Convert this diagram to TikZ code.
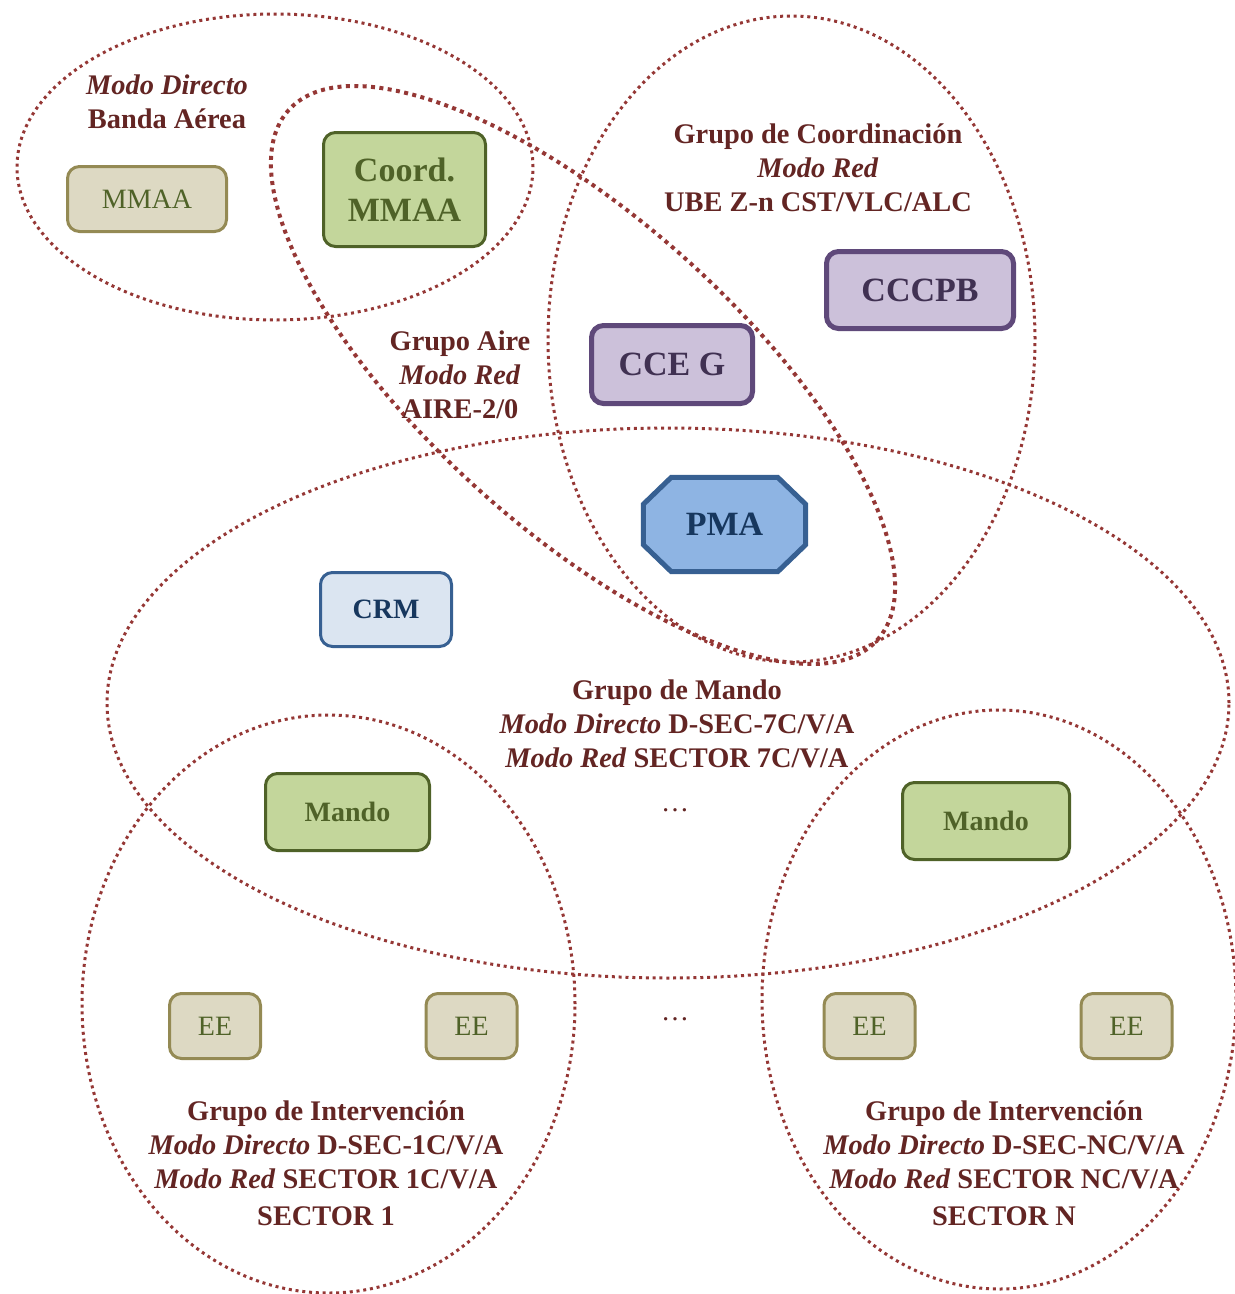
\documentclass[tikz,border=0pt]{standalone}
\usepackage{fontspec}
\setmainfont{Liberation Serif}
\definecolor{txt}{HTML}{632523}
\definecolor{dotc}{HTML}{953735}
\definecolor{grfill}{HTML}{C3D69B}
\definecolor{grdraw}{HTML}{4F6228}
\definecolor{tanfill}{HTML}{DDD9C3}
\definecolor{tandraw}{HTML}{948A54}
\definecolor{pufill}{HTML}{CCC1DA}
\definecolor{pudraw}{HTML}{5F497A}
\definecolor{putext}{HTML}{403152}
\definecolor{blfill}{HTML}{8EB4E3}
\definecolor{bldraw}{HTML}{376092}
\definecolor{bltext}{HTML}{17375E}
\definecolor{lbfill}{HTML}{DBE5F1}
\begin{document}
\begin{tikzpicture}[x=1pt,y=-1pt,
  grp/.style={draw=dotc, line width=3pt, dash pattern=on 3pt off 3.8pt},
  grpthick/.style={draw=dotc, line width=4pt, dash pattern=on 4pt off 4.4pt},
  lbl/.style={text=txt, font=\fontsize{28.4}{34}\selectfont\bfseries, align=center, inner sep=0pt},
  boxbase/.style={rectangle, rounded corners=12pt, inner sep=0pt, align=center},
  greenbox/.style={boxbase, fill=grfill, draw=grdraw, line width=3pt, text=grdraw, font=\fontsize{28}{34}\selectfont\bfseries},
  tanbox/.style={boxbase, fill=tanfill, draw=tandraw, line width=3pt, text=grdraw, font=\fontsize{28}{34}\selectfont},
  purplebox/.style={boxbase, fill=pufill, draw=pudraw, line width=5pt, text=putext, font=\fontsize{34}{40}\selectfont\bfseries},
  crmbox/.style={boxbase, fill=lbfill, draw=bldraw, line width=3pt, text=bltext, font=\fontsize{28}{34}\selectfont\bfseries},
  pmabox/.style={rectangle, inner sep=0pt, text=bltext, font=\fontsize{34}{40}\selectfont\bfseries},
  octo/.style={fill=blfill, draw=bldraw, line width=5pt, line join=miter}
]
\useasboundingbox (0,0) rectangle (1235,1294);

% group ellipses
\draw[grp] (275,167) ellipse [x radius=258pt, y radius=153pt];
\draw[grp] (791.5,339) ellipse [x radius=243.5pt, y radius=323pt];
\draw[grp] (668,703) ellipse [x radius=561pt, y radius=275pt];
\draw[grp] (328.5,1004) ellipse [x radius=246.5pt, y radius=289pt];
\draw[grp] (999,999.5) ellipse [x radius=237pt, y radius=289.5pt];
\draw[grpthick, rotate around={-42:(583,375)}] (583,375) ellipse [x radius=396pt, y radius=155pt];

% boxes
\node[tanbox, minimum width=159pt, minimum height=65pt] (mmaa) at (147,199) {MMAA};
\node[greenbox, minimum width=162pt, minimum height=114pt, font=\fontsize{34}{40}\selectfont\bfseries] (coord) at (404.5,189.5) {Coord.\\MMAA};
\node[purplebox, minimum width=187pt, minimum height=77pt] (cccpb) at (920,290) {CCCPB};
\node[purplebox, minimum width=161pt, minimum height=78pt] (cceg) at (672,364.5) {CCE G};
\node[pmabox, minimum width=162pt, minimum height=94pt] (pma) at (724.5,524.5) {};
\draw[octo] ([xshift=28pt]pma.north west) -- ([xshift=-28pt]pma.north east)
  -- ([yshift=-27pt]pma.north east) -- ([yshift=27pt]pma.south east)
  -- ([xshift=-28pt]pma.south east) -- ([xshift=28pt]pma.south west)
  -- ([yshift=27pt]pma.south west) -- ([yshift=-27pt]pma.north west) -- cycle;
\node[pmabox] (pmatext) at (pma.center) {PMA};
\node[crmbox, minimum width=131pt, minimum height=74pt] (crm) at (386,609.5) {CRM};
\node[greenbox, minimum width=164pt, minimum height=77pt] (mandoL) at (347.5,812) {Mando};
\node[greenbox, minimum width=167pt, minimum height=77pt] (mandoR) at (986,821) {Mando};
\node[tanbox, minimum width=91pt, minimum height=65pt] (ee1) at (215,1026) {EE};
\node[tanbox, minimum width=91pt, minimum height=65pt] (ee2) at (471.5,1026) {EE};
\node[tanbox, minimum width=91pt, minimum height=65pt] (ee3) at (869.5,1026) {EE};
\node[tanbox, minimum width=91pt, minimum height=65pt] (ee4) at (1126.5,1026) {EE};

% labels
\node[lbl] (lbanda) at (167,102) {\textit{Modo Directo}\\Banda Aérea};
\node[lbl] (lcoord) at (818,168) {Grupo de Coordinación\\\textit{Modo Red}\\UBE Z-n CST/VLC/ALC};
\node[lbl] (laire) at (460,375) {Grupo Aire\\\textit{Modo Red}\\AIRE-2/0};
\node[lbl] (lmando) at (677,724) {Grupo de Mando\\\textit{Modo Directo} D-SEC-7C/V/A\\\textit{Modo Red} SECTOR 7C/V/A};
\node[lbl] (lint1) at (326,1163.5) {Grupo de Intervención\\\textit{Modo Directo} D-SEC-1C/V/A\\\textit{Modo Red} SECTOR 1C/V/A\\[3pt]SECTOR 1};
\node[lbl] (lintn) at (1004,1163.5) {Grupo de Intervención\\\textit{Modo Directo} D-SEC-NC/V/A\\\textit{Modo Red} SECTOR NC/V/A\\[3pt]SECTOR N};
\node[lbl, font=\fontsize{28}{34}\selectfont] (dots1) at (675,810) {…};
\node[lbl, font=\fontsize{28}{34}\selectfont] (dots2) at (675,1019) {…};
\end{tikzpicture}
\end{document}
